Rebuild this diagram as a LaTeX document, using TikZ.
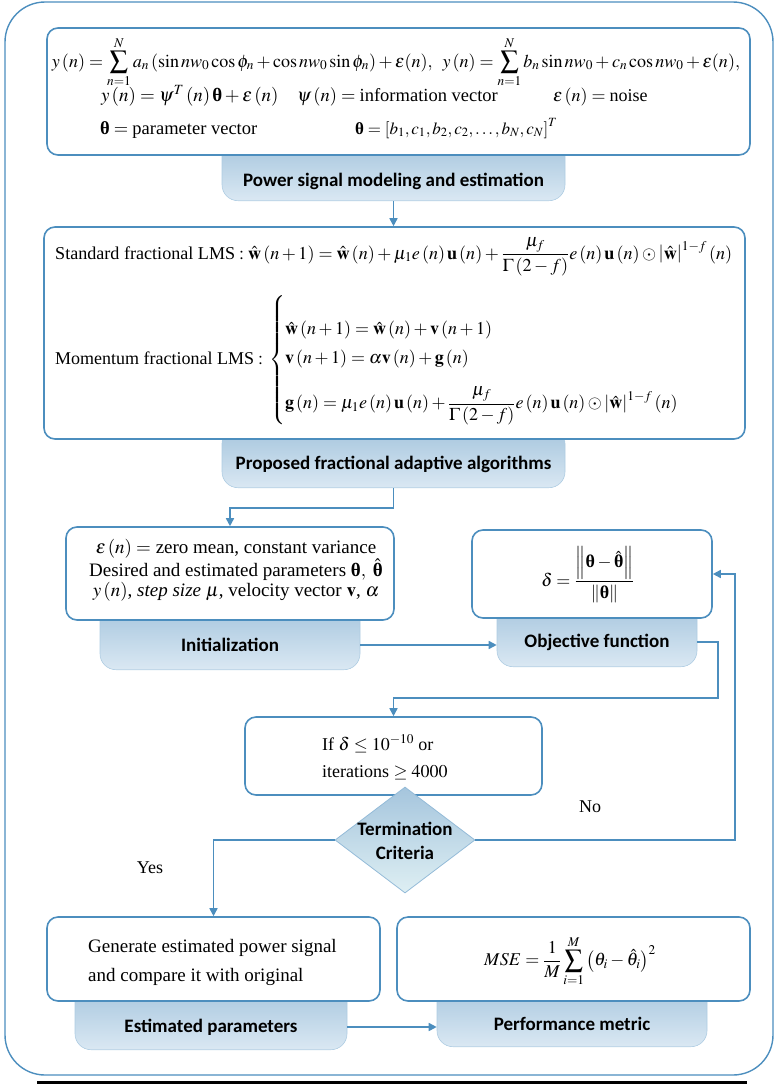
\documentclass[tikz,border=0pt]{standalone}
\usepackage{amsmath}
\usepackage{graphicx}
\usepackage{mathptmx}
\usepackage[no-math]{fontspec}
\setmainfont{Liberation Serif}
\newfontfamily\tabfont{Carlito}
\usetikzlibrary{shapes.geometric,arrows.meta,calc}
\definecolor{bord}{RGB}{76,142,190}
\definecolor{tabtop}{RGB}{165,197,221}
\definecolor{tabbot}{RGB}{218,232,243}
\definecolor{diabot}{RGB}{222,239,243}
\newcommand{\bth}{\text{\bfseries θ}}
\newcommand{\fs}[1]{\fontsize{#1}{#1}\selectfont}
\begin{document}
\begin{tikzpicture}[x=1pt,y=-1pt,
 box/.style={draw=bord, line width=1.6pt, rounded corners=11pt, fill=white, inner sep=0pt},
 tabshape/.style={draw=bord!45, line width=0.6pt, rounded corners=16pt, top color=tabtop, bottom color=tabbot, inner sep=0pt},
 tablbl/.style={font=\tabfont\bfseries\fs{19}, text=black, inner sep=0pt},
 eq/.style={font=\fs{18}, inner sep=0pt},
 arr/.style={draw=bord, line width=1.6pt, -{Triangle[length=8pt,width=8pt]}},
 frame/.style={draw=bord, line width=1.4pt, rounded corners=40pt, inner sep=0pt}
]
\useasboundingbox (0,0) rectangle (779,1085);
\node[frame, minimum width=768pt, minimum height=1073pt] (fr) at (389,538.5) {};
\draw[line width=3pt] (37,1082) -- (747,1082);

% ---- top block
\node[tabshape, minimum width=343pt, minimum height=60pt, anchor=south] (t1) at (393.5,201) {};
\node[tablbl] (l1) at (393.5,181) {Power signal modeling and estimation};
\node[box, minimum width=703pt, minimum height=127pt] (b1) at (398.5,91.5) {};
\node[eq, anchor=base] (e1) at (396,67) {\resizebox{688pt}{!}{$\displaystyle y\left(n\right)=\sum_{n=1}^{N}a_n\left(\sin nw_0\cos\phi_n+\cos nw_0\sin\phi_n\right)+\varepsilon(n),\;\; y\left(n\right)=\sum_{n=1}^{N}b_n\sin nw_0+c_n\cos nw_0+\varepsilon(n),$}};
\node[eq, anchor=base west, font=\fs{19}] (e2) at (101,101) {$y\left(n\right)=\psi^T\left(n\right)\bth+\varepsilon\left(n\right)$};
\node[eq, anchor=base west, font=\fs{18.5}] (e3) at (297,101) {$\psi\left(n\right)=\text{information vector}$};
\node[eq, anchor=base west] (e4) at (553,101) {$\varepsilon\left(n\right)=\text{noise}$};
\node[eq, anchor=base west, font=\fs{18.5}] (e5) at (100,134) {$\bth=\text{parameter vector}$};
\node[eq, anchor=base west, font=\fs{17}] (e6) at (355,134) {$\bth=\left[b_1,c_1,b_2,c_2,\dots,b_N,c_N\right]^T$};

% ---- second block
\node[tabshape, minimum width=343pt, minimum height=60pt, anchor=south] (t2) at (393.5,488) {};
\node[tablbl] (l2) at (393.5,464) {Proposed fractional adaptive algorithms};
\node[box, minimum width=701pt, minimum height=212pt] (b2) at (394.5,333) {};
\node[eq, anchor=base west] (e7) at (55,259) {\resizebox{677pt}{!}{$\text{Standard fractional LMS}:\hat{\mathbf w}\left(n+1\right)=\hat{\mathbf w}\left(n\right)+\mu_1 e\left(n\right)\mathbf u\left(n\right)+\dfrac{\mu_f}{\Gamma\left(2-f\right)}e\left(n\right)\mathbf u\left(n\right)\odot\left|\hat{\mathbf w}\right|^{1-f}\left(n\right)$}};
\node[eq, anchor=west] (e8) at (55,360) {$\text{Momentum fractional LMS}:\,\left\{\begin{array}{@{}l@{}}
\rule{0pt}{40pt}\hat{\mathbf w}\left(n+1\right)=\hat{\mathbf w}\left(n\right)+\mathbf v\left(n+1\right)\\[10pt]
\mathbf v\left(n+1\right)=\alpha\mathbf v\left(n\right)+\mathbf g\left(n\right)\\[18pt]
\mathbf g\left(n\right)=\mu_1e\left(n\right)\mathbf u\left(n\right)+\dfrac{\mu_f}{\Gamma\left(2-f\right)}e\left(n\right)\mathbf u\left(n\right)\odot\left|\hat{\mathbf w}\right|^{1-f}\left(n\right)
\end{array}\right.$};

% ---- initialization
\node[tabshape, minimum width=260pt, minimum height=65pt, anchor=south] (ti) at (230,670) {};
\node[tablbl] (li) at (230,645) {Initialization};
\node[box, minimum width=328pt, minimum height=93pt] (bi) at (230,573.5) {};
\node[eq, align=center, font=\fontsize{19}{18}\selectfont] (ei) at (236,570) {$\varepsilon\left(n\right)=$ zero mean, constant variance\\ Desired and estimated parameters $\bth,\ \hat{\bth}$\\ $y\left(n\right)$, \textit{step size} $\mu$, velocity vector $\mathbf v$, $\alpha$};

% ---- objective
\node[tabshape, minimum width=200pt, minimum height=65pt, anchor=south] (to) at (597,667) {};
\node[tablbl] (lo) at (597,642) {Objective function};
\node[box, minimum width=240pt, minimum height=88pt] (bo) at (592,574) {};
\node[eq] (eo) at (588,575) {$\delta=\dfrac{\left\|\bth-\hat{\bth}\right\|}{\left\|\bth\right\|}$};

% ---- condition
\node[box, minimum width=297pt, minimum height=78pt] (bc) at (393.5,756) {};
\node[eq, align=left, anchor=west, font=\fontsize{18}{27}\selectfont] (ec) at (322,757) {If $\delta\le 10^{-10}$ or\\iterations $\ge 4000$};
\node[diamond, draw=bord!60, line width=0.8pt, top color=tabtop, bottom color=diabot, minimum width=140pt, minimum height=106pt, inner sep=0pt] (dia) at (405,840) {};
\node[tablbl, align=center, font=\tabfont\bfseries\fontsize{19}{24}\selectfont] (ld) at (405,841) {Termination\\Criteria};

% ---- estimated
\node[tabshape, minimum width=272pt, minimum height=65pt, anchor=south] (te) at (211,1050) {};
\node[tablbl] (le) at (211,1027) {Estimated parameters};
\node[box, minimum width=333pt, minimum height=84pt] (be) at (213.5,959) {};
\node[eq, align=left, anchor=west, font=\fontsize{19}{29}\selectfont] (ee) at (88,962) {Generate estimated power signal\\and compare it with original};

% ---- performance
\node[tabshape, minimum width=270pt, minimum height=65pt, anchor=south] (tp) at (572,1047) {};
\node[tablbl] (lp) at (572,1024) {Performance metric};
\node[box, minimum width=353pt, minimum height=84pt] (bp) at (573.5,959) {};
\node[eq] (ep) at (570,961) {$MSE=\dfrac{1}{M}\displaystyle\sum_{i=1}^{M}\left(\theta_i-\hat{\theta}_i\right)^2$};

% ---- labels
\node[eq] (no) at (590,807) {No};
\node[eq] (yes) at (150,868) {Yes};

% ---- connectors
\coordinate (k1) at (718,698);
\coordinate (k2) at (735,840);
\draw[arr] (t1.south) -- (t1.south |- b2.north);
\draw[arr] (t2.south) -- ++(0,20) -| (bi.north);
\draw[arr] (ti.east |- li) -- (to.west |- li);
\draw[arr] (to.east |- lo) -| (k1) -| (bc.north);
\draw[arr] (dia.east) -- (k2) |- (bo.east);
\draw[arr] (dia.west) -| (be.north);
\draw[arr] (te.east |- le) -- (tp.west |- le);
\end{tikzpicture}
\end{document}
